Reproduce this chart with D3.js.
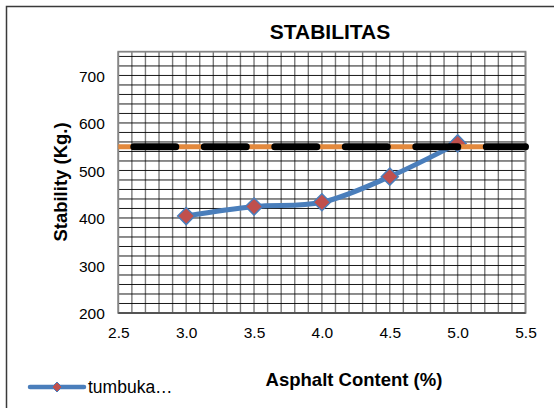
<!DOCTYPE html>
<html>
<head>
<meta charset="utf-8">
<script src="https://cdn.jsdelivr.net/npm/d3@7"></script>
<style>
  html, body { margin: 0; padding: 0; background: #fff; }
  svg { display: block; font-family: "Liberation Sans", Arial, sans-serif; }
</style>
</head>
<body>
<svg id="chart" width="554" height="408"></svg>
<script>
// Marshall stability vs asphalt content
const asphaltContent = [3.0, 3.5, 4.0, 4.5, 5.0];
const stability = [404, 424, 433, 487, 557];
const seriesName = "tumbuka…";
const minStability = 550;          // specification limit
const xTicks = [2.5, 3.0, 3.5, 4.0, 4.5, 5.0, 5.5];
const yTicks = [200, 300, 400, 500, 600, 700];
const xDomain = [2.5, 5.5];
const yDomain = [200, 750];
const xMinorStep = 0.1;
const yMinorStep = 20;

const svg = d3.select("#chart");
const plot = { left: 118.3, right: 525.5, top: 51.7, bottom: 313 };

const x = d3.scaleLinear().domain(xDomain).range([plot.left, plot.right]);
const y = d3.scaleLinear().domain(yDomain).range([plot.bottom, plot.top]);

// diamond marker path with half-diagonal r
const diamondPath = r => `M0,${-r}L${r},0L0,${r}L${-r},0Z`;

// outer chart frame (only left/top edges fall inside the canvas)
svg.append("rect")
  .attr("x", 6.5).attr("y", 6.5)
  .attr("width", 700).attr("height", 600)
  .attr("fill", "#fff")
  .attr("stroke", "#3a3a3a").attr("stroke-width", 1.5);

// grid
const vLines = d3.range(Math.round((xDomain[1] - xDomain[0]) / xMinorStep) + 1)
  .map(i => xDomain[0] + i * xMinorStep);
const hLines = d3.range(yDomain[0], yDomain[1], yMinorStep);

const grid = svg.append("g");
grid.selectAll("line.v").data(vLines).join("line")
  .attr("class", "v")
  .attr("x1", d => x(d)).attr("x2", d => x(d))
  .attr("y1", plot.top).attr("y2", plot.bottom)
  .attr("stroke", "#7a7a7a").attr("stroke-width", 1.4);
grid.selectAll("line.h").data(hLines).join("line")
  .attr("class", "h")
  .attr("x1", plot.left).attr("x2", plot.right)
  .attr("y1", d => y(d)).attr("y2", d => y(d))
  .attr("stroke", "#000").attr("stroke-width", 0.9);

// plot frame
svg.append("rect")
  .attr("x", plot.left).attr("y", plot.top)
  .attr("width", plot.right - plot.left).attr("height", plot.bottom - plot.top)
  .attr("fill", "none").attr("stroke", "#858585").attr("stroke-width", 1.8);
svg.append("line")
  .attr("x1", plot.left).attr("x2", plot.right)
  .attr("y1", plot.bottom).attr("y2", plot.bottom)
  .attr("stroke", "#222").attr("stroke-width", 1.2);

// axes (labels only)
const xAxis = d3.axisBottom(x).tickValues(xTicks).tickFormat(d3.format(".1f")).tickSize(0).tickPadding(0);
const yAxis = d3.axisLeft(y).tickValues(yTicks).tickFormat(d3.format("d")).tickSize(0).tickPadding(0);

const gx = svg.append("g").attr("transform", `translate(0,${plot.bottom})`).call(xAxis);
gx.select(".domain").remove();
gx.selectAll("text")
  .attr("y", 25.3).attr("dy", null)
  .attr("font-size", 15.5).attr("font-family", null).attr("fill", "#000");

const gy = svg.append("g").attr("transform", `translate(${plot.left},0)`).call(yAxis);
gy.select(".domain").remove();
gy.selectAll("text")
  .attr("x", -13.5).attr("dy", "0.36em")
  .attr("font-size", 15.5).attr("font-family", null).attr("fill", "#000");

// data line (smoothed)
const line = d3.line()
  .x((d, i) => x(asphaltContent[i]))
  .y(d => y(d))
  .curve(d3.curveCatmullRom.alpha(0));

svg.append("path")
  .datum(stability)
  .attr("d", line)
  .attr("fill", "none")
  .attr("stroke", "#4a7ebb").attr("stroke-width", 5)
  .attr("stroke-linejoin", "round").attr("stroke-linecap", "round");

svg.selectAll("path.marker").data(stability).join("path")
  .attr("class", "marker")
  .attr("transform", (d, i) => `translate(${x(asphaltContent[i])},${y(d)})`)
  .attr("d", diamondPath(8.5))
  .attr("fill", "#c0504d")
  .attr("stroke", "#4a7ebb").attr("stroke-width", 1.5);

// specification limit: orange line with black dashes on top
svg.append("line")
  .attr("x1", x(xDomain[0])).attr("x2", x(xDomain[1]) + 1)
  .attr("y1", y(minStability)).attr("y2", y(minStability))
  .attr("stroke", "#e3893d").attr("stroke-width", 5);
svg.append("line")
  .attr("x1", x(xDomain[0])).attr("x2", x(xDomain[1]))
  .attr("y1", y(minStability)).attr("y2", y(minStability))
  .attr("stroke", "#000").attr("stroke-width", 7)
  .attr("stroke-linecap", "round")
  .attr("stroke-dasharray", "42 28.5")
  .attr("stroke-dashoffset", 55);

// titles
svg.append("text")
  .attr("x", 330).attr("y", 38.5)
  .attr("text-anchor", "middle")
  .attr("font-size", 21).attr("font-weight", "bold")
  .text("STABILITAS");

svg.append("text")
  .attr("x", 354).attr("y", 386)
  .attr("text-anchor", "middle")
  .attr("font-size", 18.5).attr("font-weight", "bold")
  .text("Asphalt Content (%)");

svg.append("text")
  .attr("transform", "translate(61,182) rotate(-90)")
  .attr("text-anchor", "middle")
  .attr("dy", "0.35em")
  .attr("font-size", 18.5).attr("font-weight", "bold")
  .text("Stability (Kg.)");

// legend
const legend = svg.append("g");
legend.append("line")
  .attr("x1", 30).attr("x2", 84)
  .attr("y1", 387).attr("y2", 387)
  .attr("stroke", "#4a7ebb").attr("stroke-width", 4.5)
  .attr("stroke-linecap", "round");
legend.append("path")
  .attr("transform", "translate(57,387)")
  .attr("d", diamondPath(5))
  .attr("fill", "#c0504d")
  .attr("stroke", "#4a7ebb").attr("stroke-width", 1);
legend.append("text")
  .attr("x", 88).attr("y", 393)
  .attr("font-size", 17.5)
  .text(seriesName);
</script>
</body>
</html>
